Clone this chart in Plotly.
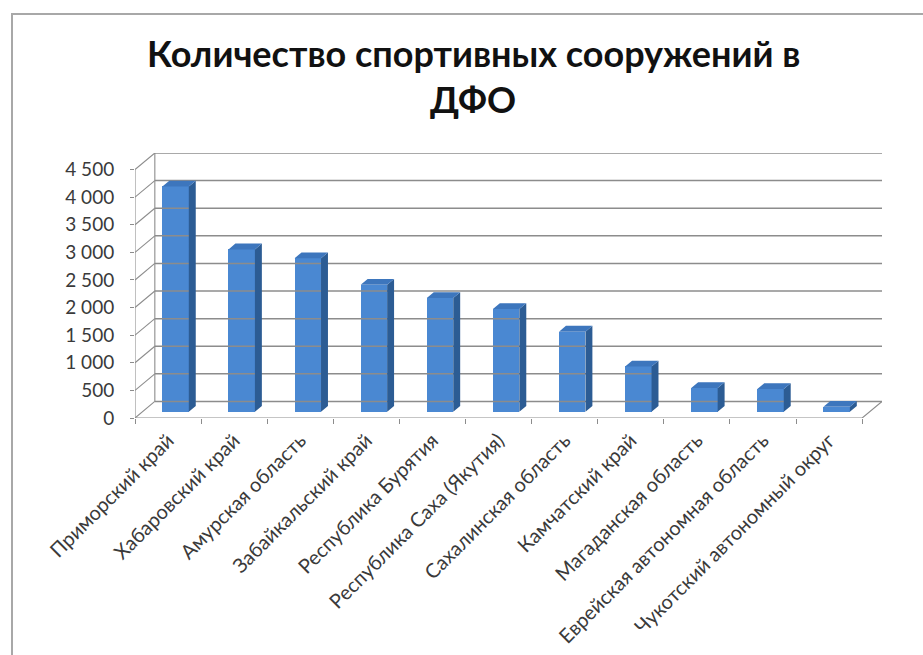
import plotly.graph_objects as go

# Sports facilities per region of the Far Eastern Federal District
regions = [
    "Приморский край",
    "Хабаровский край",
    "Амурская область",
    "Забайкальский край",
    "Республика Бурятия",
    "Республика Саха (Якутия)",
    "Сахалинская область",
    "Камчатский край",
    "Магаданская область",
    "Еврейская автономная область",
    "Чукотский автономный округ",
]
facilities = [4080, 2940, 2780, 2300, 2060, 1860, 1450, 820, 430, 410, 90]

y_ticks = [0, 500, 1000, 1500, 2000, 2500, 3000, 3500, 4000, 4500]
title_lines = ["Количество спортивных сооружений в", "ДФО"]

# pseudo-3D geometry (in axis units)
DX, DY = 0.30, 300          # depth offset of the back wall
F_DEPTH, B_DEPTH = 0.38, 0.73  # front/back depth of the columns
HALF_W = 0.20               # half width of a column
Y_TOP = y_ticks[-1]

FRONT = "#4a88d2"
SIDE = "#2c5c94"
TOP = "#3d76bd"
GRID = "#8c8c8c"
TEXT = "#3a3a3a"
FONT = "Lato"

# page layout (pixels)
W, H = 923, 655
ML, MR, MT, MB = 135, 41, 153, 237
PW, PH = W - ML - MR, H - MT - MB


def px_x(p):
    return (p - ML) / PW


def px_y(p):
    return (H - MB - p) / PH


n = len(regions)
x_lo, x_hi = -0.5, n - 0.5

fig = go.Figure()

# back wall gridlines
gx, gy = [], []
for v in y_ticks:
    gx += [x_lo + DX, x_hi + DX, None]
    gy += [v + DY, v + DY, None]
fig.add_trace(go.Scatter(x=gx, y=gy, mode="lines",
                         line=dict(color=GRID, width=1.5), hoverinfo="skip"))

# side wall: short diagonals from the front axis to the back wall
dx_, dy_ = [], []
for v in y_ticks:
    dx_ += [x_lo, x_lo + DX, None]
    dy_ += [v, v + DY, None]
# back wall left edge, front axis, floor edges
dx_ += [x_lo + DX, x_lo + DX, None, x_lo, x_lo, None,
        x_lo, x_hi, x_hi + DX, None]
dy_ += [DY, Y_TOP + DY, None, 0, Y_TOP, None,
        0, 0, DY, None]
fig.add_trace(go.Scatter(x=dx_, y=dy_, mode="lines",
                         line=dict(color=GRID, width=1.1), hoverinfo="skip"))

# column front faces
fig.add_trace(go.Bar(
    x=[i + F_DEPTH * DX for i in range(n)],
    y=facilities,
    base=F_DEPTH * DY,
    width=2 * HALF_W,
    marker=dict(color=FRONT, line=dict(width=0)),
    hoverinfo="skip",
))

# column side and top faces
sx, sy, tx, ty = [], [], [], []
for i, v in enumerate(facilities):
    xr_f = i + HALF_W + F_DEPTH * DX
    xr_b = i + HALF_W + B_DEPTH * DX
    xl_f = i - HALF_W + F_DEPTH * DX
    xl_b = i - HALF_W + B_DEPTH * DX
    yb_f, yb_b = F_DEPTH * DY, B_DEPTH * DY
    sx += [xr_f, xr_b, xr_b, xr_f, xr_f, None]
    sy += [yb_f, yb_b, v + yb_b, v + yb_f, yb_f, None]
    tx += [xl_f, xr_f, xr_b, xl_b, xl_f, None]
    ty += [v + yb_f, v + yb_f, v + yb_b, v + yb_b, v + yb_f, None]
fig.add_trace(go.Scatter(x=sx, y=sy, mode="lines", fill="toself",
                         fillcolor=SIDE, line=dict(width=0, color=SIDE),
                         hoverinfo="skip"))
fig.add_trace(go.Scatter(x=tx, y=ty, mode="lines", fill="toself",
                         fillcolor=TOP, line=dict(width=0, color=TOP),
                         hoverinfo="skip"))

fig.update_xaxes(
    range=[x_lo, x_hi + DX],
    tickmode="array",
    tickvals=list(range(n)),
    ticktext=regions,
    tickangle=-45,
    ticks="",
    ticklabelstandoff=6,
    minor=dict(tick0=x_lo, dtick=1, ticks="outside", ticklen=5,
               tickcolor=GRID, showgrid=False),
    showgrid=False,
    zeroline=False,
    showline=False,
    automargin=False,
    tickfont=dict(family=FONT, size=20, color=TEXT),
)
fig.update_yaxes(
    range=[0, Y_TOP + DY],
    tickmode="array",
    tickvals=y_ticks,
    tickformat=",d",
    ticks="outside",
    ticklen=4,
    tickcolor=GRID,
    ticklabelstandoff=12,
    showgrid=False,
    zeroline=False,
    showline=False,
    automargin=False,
    tickfont=dict(family=FONT, size=19, color=TEXT),
)

fig.update_layout(
    width=W,
    height=H,
    margin=dict(l=ML, r=MR, t=MT, b=MB),
    paper_bgcolor="white",
    plot_bgcolor="white",
    showlegend=False,
    separators=", ",
    bargap=0,
    annotations=[
        dict(text=title_lines[0], xref="paper", yref="paper",
             x=px_x(473), y=px_y(53), xanchor="center", yanchor="middle",
             showarrow=False,
             font=dict(family=FONT, size=36, color="#111111", weight="bold")),
        dict(text=title_lines[1], xref="paper", yref="paper",
             x=px_x(473), y=px_y(99), xanchor="center", yanchor="middle",
             showarrow=False,
             font=dict(family=FONT, size=36, color="#111111", weight="bold")),
    ],
    shapes=[
        dict(type="rect", xref="paper", yref="paper",
             x0=px_x(12), x1=px_x(940), y0=px_y(14), y1=px_y(680),
             line=dict(color="#a8a8a8", width=2), layer="below"),
    ],
)

fig.write_html("out.html")
